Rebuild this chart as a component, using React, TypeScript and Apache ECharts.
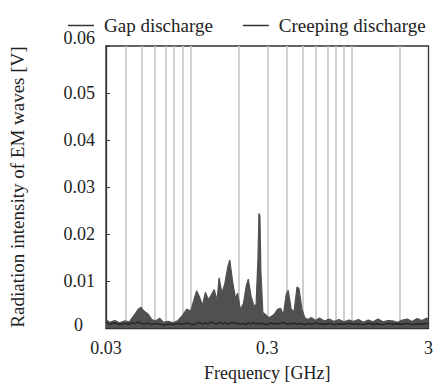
import React, { useEffect, useRef } from "react";
import * as echarts from "echarts";

// Frequencies in GHz (shared by both series)
const freqGHz = [
  0.03, 0.0317, 0.034, 0.0364, 0.039, 0.0419, 0.0437, 0.0455, 0.0475, 0.0495,
  0.0516, 0.0546, 0.0577, 0.061, 0.0645, 0.0682, 0.0731, 0.0784, 0.084, 0.09,
  0.0951, 0.1006, 0.1049, 0.1094, 0.1141, 0.1189, 0.124, 0.1293, 0.1348, 0.1406,
  0.1466, 0.1507, 0.1571, 0.1638, 0.1708, 0.1756, 0.1831, 0.1909, 0.1963, 0.2046,
  0.2134, 0.2225, 0.2288, 0.2386, 0.2488, 0.2557, 0.2629, 0.2665, 0.2702, 0.274,
  0.2817, 0.2938, 0.3064, 0.3194, 0.3331, 0.3473, 0.3622, 0.3776, 0.3937, 0.4048,
  0.4222, 0.4401, 0.4589, 0.4719, 0.4921, 0.5131, 0.535, 0.5656, 0.598, 0.6323,
  0.6779, 0.7268, 0.7793, 0.8355, 0.8958, 0.9604, 1.0297, 1.104, 1.1837, 1.269,
  1.3606, 1.4588, 1.5641, 1.6769, 1.7979, 1.9276, 2.0667, 2.2158, 2.3757, 2.5471,
  2.7309, 2.928, 3.0,
];

// Creeping discharge radiation intensity [V]
const creepingV = [
  0.0018, 0.0012, 0.0016, 0.0011, 0.0015, 0.0013, 0.0022, 0.003, 0.004, 0.0044,
  0.0036, 0.003, 0.0018, 0.0015, 0.0021, 0.0012, 0.0014, 0.0011, 0.0016, 0.0028,
  0.004, 0.0036, 0.0058, 0.0079, 0.0066, 0.0048, 0.0076, 0.006, 0.007, 0.0082,
  0.0058, 0.0107, 0.0074, 0.0095, 0.013, 0.0145, 0.0098, 0.0062, 0.0074, 0.0039,
  0.0052, 0.009, 0.0104, 0.0066, 0.0046, 0.005, 0.015, 0.0244, 0.0238, 0.012,
  0.0033, 0.0028, 0.0022, 0.0025, 0.003, 0.004, 0.0042, 0.0028, 0.0072, 0.008,
  0.004, 0.0035, 0.0087, 0.0084, 0.004, 0.0022, 0.0018, 0.0022, 0.0016, 0.0021,
  0.0015, 0.0019, 0.0014, 0.0018, 0.0013, 0.0017, 0.0014, 0.0018, 0.0012, 0.0017,
  0.0013, 0.0019, 0.0013, 0.0016, 0.0015, 0.0012, 0.0017, 0.0019, 0.0014, 0.002,
  0.0016, 0.0021, 0.0018,
];

// Gap discharge radiation intensity [V]
const gapV = [
  0.0012, 0.0008, 0.0011, 0.0007, 0.001, 0.0008, 0.0012, 0.0009, 0.0013, 0.001,
  0.0008, 0.0011, 0.0007, 0.001, 0.0008, 0.0006, 0.0009, 0.0007, 0.001, 0.0008,
  0.0011, 0.0009, 0.0007, 0.001, 0.0012, 0.0008, 0.0011, 0.0009, 0.0013, 0.001,
  0.0008, 0.0012, 0.0009, 0.0011, 0.0008, 0.001, 0.0012, 0.0009, 0.0011, 0.0008,
  0.001, 0.0007, 0.0011, 0.0009, 0.0012, 0.0008, 0.001, 0.0009, 0.0011, 0.0008,
  0.001, 0.0007, 0.0009, 0.0011, 0.0008, 0.001, 0.0009, 0.0012, 0.0008, 0.001,
  0.0009, 0.0011, 0.0008, 0.001, 0.0009, 0.0007, 0.001, 0.0008, 0.0011, 0.0009,
  0.0008, 0.001, 0.0007, 0.0009, 0.0008, 0.001, 0.0008, 0.0009, 0.0007, 0.001,
  0.0008, 0.0009, 0.0007, 0.001, 0.0008, 0.0009, 0.0008, 0.001, 0.0007, 0.0009,
  0.0008, 0.001, 0.0009,
];

// Vertical reference lines (GHz)
const gridFreqs = [
  0.04, 0.05, 0.06, 0.07, 0.08, 0.09, 0.1, 0.2, 0.3, 0.4, 0.5, 0.6, 0.7, 0.8,
  0.9, 1, 2,
];
const xTickLabels = [0.03, 0.3, 3];
const xMin = 0.03;
const xMax = 3;

const FONT = "Liberation Serif";
const FS = 18;

export default function App() {
  const ref = useRef<HTMLDivElement>(null);
  useEffect(() => {
    if (!ref.current) return;
    const chart = echarts.init(ref.current, undefined, { renderer: "svg" });
    const lg = (v: number) => Math.log10(v);
    chart.setOption({
      animation: false,
      backgroundColor: "#ffffff",
      textStyle: { fontFamily: FONT },
      legend: {
        left: 63,
        top: 11,
        width: 420,
        itemGap: 30,
        itemWidth: 26,
        itemHeight: 12,
        icon: "path://M0,10 L26,10 L26,11.5 L0,11.5 Z",
        textStyle: { fontFamily: FONT, fontSize: 19, color: "#222", padding: [0, 0, 0, 5] },
        data: [
          { name: "Gap discharge", itemStyle: { color: "#333" } },
          { name: "Creeping discharge", itemStyle: { color: "#333" } },
        ],
      },
      grid: {
        left: 101,
        right: 4,
        top: 46,
        bottom: 48,
        show: true,
        borderColor: "#333",
        borderWidth: 1.3,
      },
      xAxis: {
        type: "value",
        min: lg(xMin),
        max: lg(xMax),
        name: "Frequency [GHz]",
        nameLocation: "middle",
        nameGap: 36,
        nameTextStyle: { fontFamily: FONT, fontSize: FS, color: "#222" },
        axisLine: { show: true, onZero: false, lineStyle: { color: "#333", width: 1.3 } },
        axisTick: { show: false },
        splitLine: { show: false },
        axisLabel: {
          customValues: xTickLabels.map(lg),
          fontFamily: FONT,
          fontSize: FS,
          color: "#222",
          margin: 11,
          formatter: (v: number) => String(Number(Math.pow(10, v).toPrecision(1))),
        },
      },
      yAxis: {
        type: "value",
        min: 0,
        max: 0.06,
        interval: 0.01,
        name: "Radiation intensity of EM waves [V]",
        nameLocation: "middle",
        nameGap: 79,
        nameTextStyle: { fontFamily: FONT, fontSize: 19, color: "#222" },
        axisLine: { show: true, onZero: false, lineStyle: { color: "#333", width: 1.3 } },
        axisTick: { show: true, inside: true, length: 4, lineStyle: { color: "#333" } },
        splitLine: { show: false },
        axisLabel: {
          fontFamily: FONT,
          fontSize: FS,
          color: "#222",
          margin: 11,
          formatter: (v: number) =>
            v === 0 ? "{z|0}" : v > 0.055 ? "{t|" + v.toFixed(2) + "}" : v.toFixed(2),
          rich: {
            z: { fontFamily: FONT, fontSize: FS, color: "#222", padding: [0, 12, 6, 0] },
            t: { fontFamily: FONT, fontSize: FS, color: "#222", padding: [0, 0, 16, 0] },
          },
        },
      },
      series: [
        {
          name: "Creeping discharge",
          type: "line",
          z: 3,
          symbol: "none",
          color: "#505050",
          lineStyle: { color: "#505050", width: 1.2 },
          areaStyle: { color: "#505050", opacity: 1 },
          data: freqGHz.map((f, i) => [lg(f), creepingV[i]]),
          markLine: {
            z: 1,
            silent: true,
            symbol: "none",
            label: { show: false },
            lineStyle: { color: "#c4c4c4", width: 1.6, type: "solid" },
            data: gridFreqs.map((f) => ({ xAxis: lg(f) })),
          },
        },
        {
          name: "Gap discharge",
          type: "line",
          z: 4,
          symbol: "none",
          color: "#222222",
          lineStyle: { color: "#222222", width: 1.3 },
          data: freqGHz.map((f, i) => [lg(f), gapV[i]]),
        },
      ],
    });
    return () => chart.dispose();
  }, []);
  return (
    <div
      ref={ref}
      style={{ position: "absolute", left: 0, top: 0, width: 436, height: 387 }}
    />
  );
}
